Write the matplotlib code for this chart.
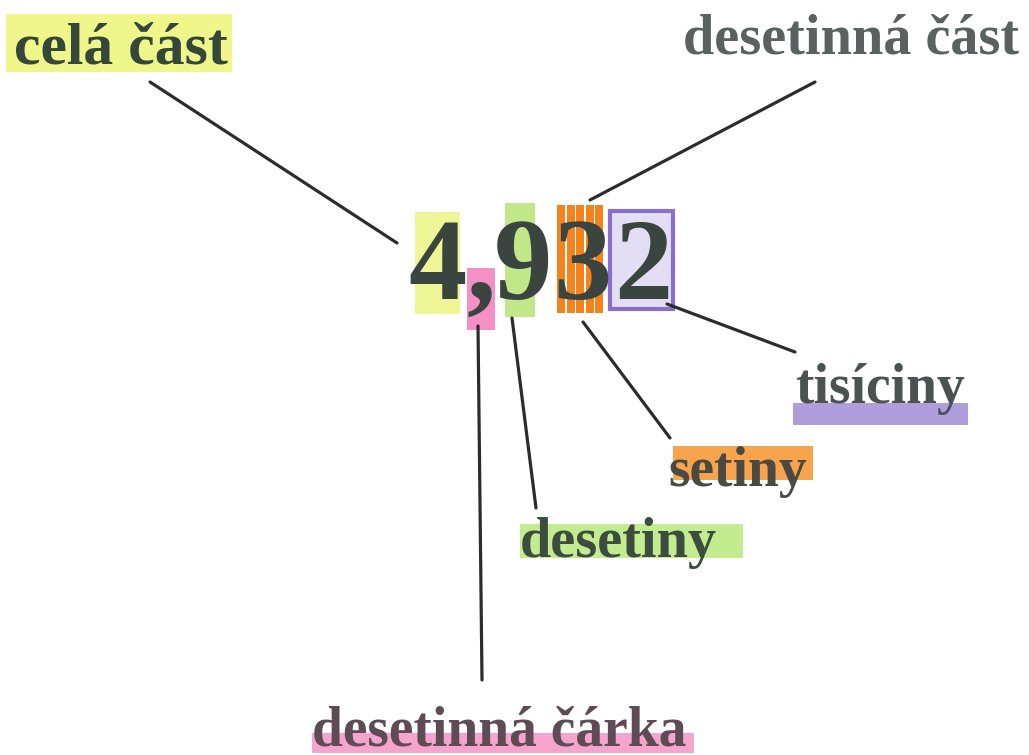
import matplotlib
matplotlib.use("Agg")
import matplotlib.pyplot as plt
from matplotlib.patches import Rectangle

# the number split into its characters
digits = ["4", ",", "9", "3", "2"]
digit_x = [437, 481, 523, 582, 643]
digit_base = 299

# labels around the number
labels = ["celá část", "desetinná část", "tisíciny", "setiny", "desetiny", "desetinná čárka"]
label_x = [14, 683, 795, 668, 520, 312]
label_base = [64, 54, 403, 486, 557, 745]
label_size = [43, 40.5, 40, 40, 40.5, 40]
label_color = ["#34473a", "#5b6060", "#4a5252", "#4a4a42", "#3c4d40", "#5e4b55"]

# marker highlights (x, y, w, h, colour)
marks = [
    (6, 14, 226, 58, "#eef77e"),      # celá část
    (415, 212, 45, 102, "#eef58a"),   # 4
    (467, 268, 28, 62, "#f384c0"),    # ,
    (505, 203, 30, 114, "#b9e67c"),   # 9
    (673, 446, 140, 34, "#f59a3a"),   # setiny
    (520, 524, 223, 34, "#bdea84"),   # desetiny
    (312, 733, 382, 20, "#f39ac8"),   # desetinná čárka
]
orange_stripes = [557, 566.5, 576, 585.5, 595]
purple_box = (610, 211, 63, 98)
purple_under = (793, 403, 175, 22)

# connector lines (x0, y0, x1, y1)
lines = [
    (150, 82, 397, 243),
    (815, 82, 590, 200),
    (667, 304, 795, 352),
    (583, 322, 670, 438),
    (512, 318, 536, 508),
    (478, 326, 482, 680),
]

fig = plt.figure(figsize=(10.29, 7.55), dpi=100)
ax = fig.add_axes([0, 0, 1, 1])
ax.set_xlim(0, 1029)
ax.set_ylim(755, 0)
ax.axis("off")

for x, y, w, h, c in marks:
    ax.add_patch(Rectangle((x, y), w, h, color=c, alpha=0.9, lw=0))
for x in orange_stripes:
    ax.add_patch(Rectangle((x, 205), 8, 108, color="#f5821a", lw=0))
px, py, pw, ph = purple_box
ax.add_patch(Rectangle((px, py), pw, ph, facecolor="#e4def4", edgecolor="#8a70cc", lw=3))
ux, uy, uw, uh = purple_under
ax.add_patch(Rectangle((ux, uy), uw, uh, color="#9a86d6", alpha=0.8, lw=0))

for x0, y0, x1, y1 in lines:
    ax.plot([x0, x1], [y0, y1], color="#2b2d2c", lw=2.3, solid_capstyle="round")

for d, x in zip(digits, digit_x):
    ax.text(x, digit_base, d, ha="center", va="baseline", fontsize=84,
            family="Liberation Serif", weight="bold", color="#3b4540")

for t, x, y, s, c in zip(labels, label_x, label_base, label_size, label_color):
    ax.text(x, y, t, ha="left", va="baseline", fontsize=s,
            family="Liberation Serif", weight="bold", color=c)

fig.savefig("out.png", dpi=100, facecolor="white")
